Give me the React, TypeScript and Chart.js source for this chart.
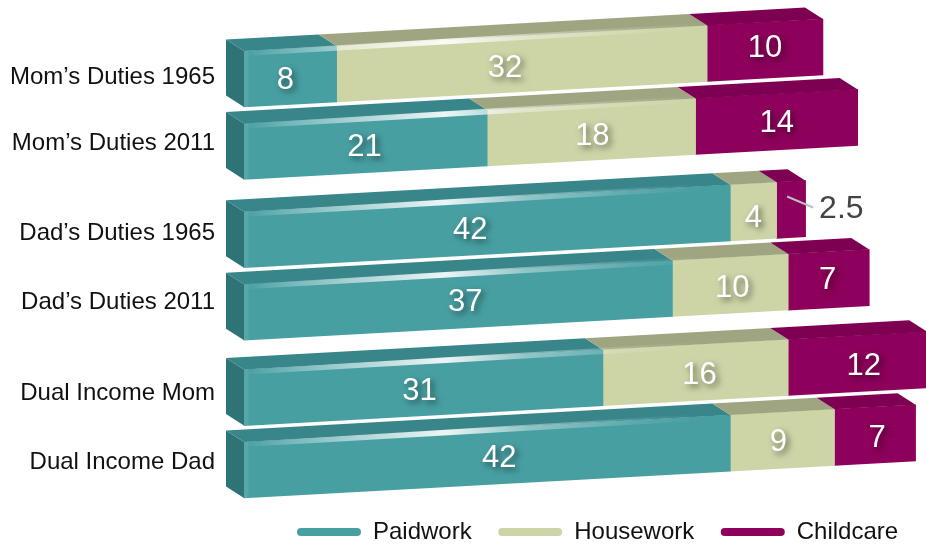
import React, { useEffect, useRef } from "react";
import { Chart, registerables } from "chart.js";

Chart.register(...registerables);

const categories = [
  "Mom’s Duties 1965",
  "Mom’s Duties 2011",
  "Dad’s Duties 1965",
  "Dad’s Duties 2011",
  "Dual Income Mom",
  "Dual Income Dad",
];
const paidwork = [8, 21, 42, 37, 31, 42];
const housework = [32, 18, 4, 10, 16, 9];
const childcare = [10, 14, 2.5, 7, 12, 7];

// The y axis is a fine grid of rows; bars occupy a few of them so that
// pairs of bars sit closer together than the groups they form.
const rowGaps = [50, 61, 50, 59, 50];
const rowIndex: number[] = [0];
rowGaps.forEach((gap, i) => rowIndex.push(rowIndex[i] + gap));
const rowCount = rowIndex[rowIndex.length - 1] + 1;
const spreadToRows = <T,>(items: T[], blank: T): T[] => {
  const out = new Array<T>(rowCount).fill(blank);
  items.forEach((v, i) => (out[rowIndex[i]] = v));
  return out;
};

// Oblique projection: front faces rise to the right, depth runs up and to the left.
const SLOPE = 0.0553;
const DEPTH_X = -18;
const DEPTH_Y = -11.5;
const AXIS_LEFT = 244;
const BAR_THICKNESS = 56;
const FONT = '"Liberation Sans", Helvetica, Arial, sans-serif';

const rise = (x: number, y: number) => y - SLOPE * (x - AXIS_LEFT);

const seriesStyles = [
  { name: "Paidwork", data: paidwork, front: "#479FA2", top: "#38868A" },
  { name: "Housework", data: housework, front: "#CDD4A6", top: "#A0A581" },
  { name: "Childcare", data: childcare, front: "#8D005B", top: "#7E0052" },
];
const SIDE_COLOR = "#2E7477";

// Small hand placement of the numbers inside their segments, [dx, dy] per bar.
const labelNudges = [
  [[-5, 4], [-1, 3], [-17, 4.5], [7, 2.5], [-4, 4], [12, 2]],
  [[-17, 5], [1, 4], [0, 6.5], [2, 3.5], [4, 3], [-4, 2]],
  [[0, -2], [0, 2], [0, 0], [-1, 0.5], [6, 3], [2, 3]],
];
const tickNudges = [-2, -8.5, -6, -9.5, -4, -7.5];

function fillPoly(ctx: CanvasRenderingContext2D, pts: number[][], fill: string | CanvasGradient) {
  ctx.beginPath();
  pts.forEach(([x, y], i) => (i ? ctx.lineTo(x, y) : ctx.moveTo(x, y)));
  ctx.closePath();
  ctx.fillStyle = fill;
  ctx.fill();
}

const bar3dPlugin = {
  id: "bar3d",
  afterLayout(chart: any) {
    // The legend sits under the right-hand part of the plot.
    chart.legend.left = 270.5;
    chart.legend.top = 493.5;
    chart.legend.bottom = 544;
  },
  beforeDatasetsDraw(chart: any) {
    const { ctx } = chart;
    ctx.save();
    ctx.transform(1, -SLOPE, 0, 1, 0, SLOPE * AXIS_LEFT);
  },
  afterDatasetsDraw(chart: any) {
    const { ctx } = chart;
    ctx.restore();

    const half = BAR_THICKNESS / 2;
    categories.forEach((_, c) => {
      const row = rowIndex[c];
      const segments = seriesStyles.map((_s, s) => chart.getDatasetMeta(s).data[row]);
      const cy = segments[0].y;
      const top = cy - half;
      const bottom = cy + half;
      const x0 = segments[0].base;
      const xEnd = segments[2].x;

      // Side face
      fillPoly(ctx, [
        [x0, rise(x0, top)],
        [x0 + DEPTH_X, rise(x0, top) + DEPTH_Y],
        [x0 + DEPTH_X, rise(x0, bottom) + DEPTH_Y],
        [x0, rise(x0, bottom)],
      ], SIDE_COLOR);

      // Top faces
      segments.forEach((el: any, s: number) => {
        const a = el.base;
        const b = el.x;
        fillPoly(ctx, [
          [a, rise(a, top)],
          [b, rise(b, top)],
          [b + DEPTH_X, rise(b, top) + DEPTH_Y],
          [a + DEPTH_X, rise(a, top) + DEPTH_Y],
        ], seriesStyles[s].top);
      });

      // Pale inner edge at the near end of the front face
      fillPoly(ctx, [
        [x0, rise(x0, top)],
        [x0 + 4.5, rise(x0 + 4.5, top)],
        [x0 + 4.5, rise(x0 + 4.5, bottom)],
        [x0, rise(x0, bottom)],
      ], "rgba(255,255,255,0.09)");

      // Gloss along the top front edge, brightest about a third of the way along
      const glossEnd = Math.min(xEnd, 700);
      const gloss = ctx.createLinearGradient(x0, 0, 700, 0);
      gloss.addColorStop(0, "rgba(255,255,255,0)");
      gloss.addColorStop(0.1, "rgba(255,255,255,0.25)");
      gloss.addColorStop(0.22, "rgba(255,255,255,0.5)");
      gloss.addColorStop(0.44, "rgba(255,255,255,0.9)");
      gloss.addColorStop(0.62, "rgba(255,255,255,0.4)");
      gloss.addColorStop(0.85, "rgba(255,255,255,0.12)");
      gloss.addColorStop(1, "rgba(255,255,255,0)");
      fillPoly(ctx, [
        [x0, rise(x0, top)],
        [glossEnd, rise(glossEnd, top - 2.5)],
        [glossEnd, rise(glossEnd, top + 4)],
        [x0 + 4.5, rise(x0 + 4.5, top + 5)],
      ], gloss);
    });

    // Value labels
    ctx.textAlign = "center";
    ctx.textBaseline = "middle";
    seriesStyles.forEach((series, s) => {
      categories.forEach((_, c) => {
        const el = chart.getDatasetMeta(s).data[rowIndex[c]];
        const mid = (el.x + el.base) / 2;
        const value = series.data[c];
        const outside = el.x - el.base < 30;
        const midY = rise(mid, el.y);
        ctx.save();
        if (outside) {
          ctx.strokeStyle = "#BDBDBD";
          ctx.lineWidth = 2;
          ctx.beginPath();
          ctx.moveTo(mid - 4, midY - 13);
          ctx.lineTo(mid + 22, midY - 2);
          ctx.stroke();
          ctx.fillStyle = "#444444";
          ctx.textAlign = "left";
          ctx.font = `32px ${FONT}`;
          ctx.fillText(String(value), mid + 28, midY);
        } else {
          const [dx, dy] = labelNudges[s][c];
          ctx.shadowColor = "rgba(0,0,0,0.55)";
          ctx.shadowBlur = 6;
          ctx.shadowOffsetX = 3;
          ctx.shadowOffsetY = 3;
          ctx.fillStyle = "#FFFFFF";
          ctx.font = `31px ${FONT}`;
          ctx.fillText(String(value), mid + dx, midY + dy);
        }
        ctx.restore();
      });
    });
  },
};

export default function App() {
  const ref = useRef<HTMLCanvasElement>(null);

  useEffect(() => {
    if (!ref.current) return;
    const chart = new Chart(ref.current, {
      type: "bar",
      plugins: [bar3dPlugin],
      data: {
        labels: spreadToRows(categories, ""),
        datasets: seriesStyles.map((s) => ({
          label: s.name,
          data: spreadToRows<number | null>(s.data, null),
          backgroundColor: s.front,
          barThickness: BAR_THICKNESS,
          borderWidth: 0,
          clip: false as any,
        })),
      },
      options: {
        indexAxis: "y",
        responsive: false,
        animation: false,
        layout: { padding: { top: 79, bottom: 13.5, left: 0, right: 0 } },
        scales: {
          x: { stacked: true, display: false, min: 0, max: 58.9 },
          y: {
            stacked: true,
            offset: false,
            border: { display: false },
            grid: { display: false, drawTicks: false },
            afterFit(scale: any) {
              scale.width = AXIS_LEFT;
              // Each axis label is placed a little above its bar's centre line.
              scale.getPixelForTick = (i: number) => {
                const at = rowIndex.indexOf(i);
                return scale.getPixelForValue(scale.ticks[i].value) + (at >= 0 ? tickNudges[at] : 0);
              };
            },
            ticks: {
              autoSkip: false,
              padding: 29,
              color: "#111111",
              font: { family: FONT, size: 24 },
            },
          },
        },
        plugins: {
          tooltip: { enabled: false },
          legend: {
            position: "bottom",
            align: "start",
            labels: {
              boxWidth: 64,
              boxHeight: 8,
              padding: 26.5,
              useBorderRadius: true,
              borderRadius: 4,
              color: "#111111",
              font: { family: FONT, size: 24 },
            },
          },
        },
      },
    } as any);
    return () => chart.destroy();
  }, []);

  return (
    <div style={{ position: "absolute", left: 0, top: 0, width: 926, height: 544 }}>
      <canvas ref={ref} width={926} height={544} style={{ display: "block" }} />
    </div>
  );
}
